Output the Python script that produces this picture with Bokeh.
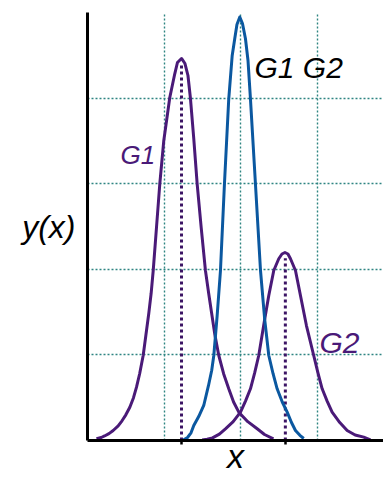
from bokeh.plotting import figure
from bokeh.models import FixedTicker, Label, Range1d
from bokeh.embed import file_html
from bokeh.resources import INLINE

# ---- data ----
g1_x = [0.117, 0.18, 0.222, 0.28, 0.335, 0.40, 0.45, 0.50, 0.552, 0.60, 0.639, 0.68,
        0.726, 0.76, 0.799, 0.83, 0.857, 0.900, 0.943, 0.995, 1.073, 1.138, 1.173,
        1.226, 1.271, 1.310, 1.343, 1.386, 1.430, 1.482, 1.538, 1.58, 1.617, 1.66,
        1.712, 1.775, 1.842, 1.905, 1.973, 2.09, 2.213, 2.308, 2.425]
g1_y = [0.02, 0.035, 0.053, 0.08, 0.117, 0.17, 0.23, 0.30, 0.389, 0.50, 0.623, 0.78,
        0.993, 1.22, 1.484, 1.72, 1.986, 2.492, 3.002, 3.505, 4.007, 4.284, 4.416,
        4.463, 4.404, 4.264, 3.992, 3.524, 2.999, 2.492, 1.986, 1.72, 1.499, 1.24,
        0.993, 0.78, 0.604, 0.45, 0.331, 0.22, 0.137, 0.07, 0.02]

g12_x = [1.239, 1.304, 1.35, 1.386, 1.45, 1.516, 1.578, 1.62, 1.647, 1.69, 1.734,
         1.786, 1.842, 1.887, 1.920, 1.949, 1.986, 2.021, 2.060, 2.093, 2.125, 2.190,
         2.256, 2.31, 2.364, 2.42, 2.473, 2.54, 2.604, 2.66, 2.712, 2.77, 2.820]
g12_y = [0.0, 0.035, 0.09, 0.175, 0.28, 0.409, 0.643, 0.82, 0.993, 1.45, 1.986,
         2.999, 3.992, 4.498, 4.693, 4.860, 4.947, 4.871, 4.693, 4.439, 3.992, 2.999,
         1.986, 1.42, 0.993, 0.78, 0.604, 0.45, 0.331, 0.21, 0.117, 0.06, 0.023]

g2_x = [1.495, 1.56, 1.630, 1.72, 1.799, 1.90, 1.995, 2.06, 2.125, 2.18, 2.233, 2.308,
        2.364, 2.429, 2.494, 2.536, 2.575, 2.614, 2.647, 2.712, 2.777, 2.855, 2.950,
        3.005, 3.060, 3.125, 3.190, 3.29, 3.386, 3.49, 3.602, 3.690]
g2_y = [0.006, 0.015, 0.03, 0.075, 0.137, 0.22, 0.331, 0.46, 0.604, 0.79, 0.993, 1.402,
        1.694, 1.986, 2.123, 2.179, 2.196, 2.179, 2.123, 1.986, 1.694, 1.343, 0.993,
        0.79, 0.604, 0.46, 0.331, 0.21, 0.117, 0.065, 0.039, 0.006]

centre_x = [1.226, 2.58]      # centres of G1 and G2
centre_top = [4.38, 2.13]     # top of the dotted centre lines
grid_x = [1, 2, 3]
grid_y = [1, 2, 3, 4, 5]

curve_labels = ["G1", "G1 G2", "G2"]
label_x = [0.430, 2.177, 3.025]
label_y = [3.341, 4.363, 1.145]

PURPLE = "#4a1a78"
DOT_PURPLE = "#3c1464"
BLUE = "#0b58a0"
TEAL = "#2f8582"
FONT = "Liberation Sans"

p = figure(width=383, height=477, x_range=Range1d(0, 3.86), y_range=Range1d(0, 5),
           output_backend="svg", toolbar_location=None,
           min_border_left=87, min_border_right=0, min_border_top=12, min_border_bottom=37)
p.outline_line_color = None
p.background_fill_color = "white"
p.border_fill_color = "white"

# grid
p.xgrid.ticker = FixedTicker(ticks=grid_x)
p.ygrid.ticker = FixedTicker(ticks=grid_y)
for g in (p.xgrid, p.ygrid):
    g.grid_line_color = TEAL
    g.grid_line_dash = "2 2"
    g.grid_line_width = 1.4

# axes
p.xaxis.ticker = FixedTicker(ticks=centre_x)
p.xaxis.major_label_overrides = {c: "" for c in centre_x}
p.yaxis.ticker = FixedTicker(ticks=[])
for ax in (p.xaxis, p.yaxis):
    ax.axis_line_width = 3
    ax.axis_line_color = "black"
    ax.minor_tick_line_color = None
    ax.major_label_standoff = 0
    ax.major_tick_in = 0
    ax.axis_label_text_font = FONT
    ax.axis_label_text_font_style = "italic"
    ax.axis_label_text_color = "black"
p.xaxis.major_tick_out = 4
p.xaxis.major_tick_line_width = 2.5
p.xaxis.major_tick_line_color = "black"
p.yaxis.major_tick_out = 0
p.yaxis.major_tick_line_color = None

p.xaxis.axis_label = "x"
p.xaxis.axis_label_text_font_size = "34px"
p.xaxis.axis_label_standoff = -8
p.yaxis.axis_label = "y(x)"
p.yaxis.axis_label_text_font_size = "32px"
p.yaxis.axis_label_orientation = "horizontal"
p.yaxis.axis_label_standoff = 12

# dotted centre lines
p.segment(x0=centre_x, y0=[0, 0], x1=centre_x, y1=centre_top,
          line_color=DOT_PURPLE, line_width=3, line_dash="3 3")

# curves
p.line(g1_x, g1_y, line_color=PURPLE, line_width=3, line_join="round")
p.line(g2_x, g2_y, line_color=PURPLE, line_width=3, line_join="round")
p.line(g12_x, g12_y, line_color=BLUE, line_width=3, line_join="round")

label_size = ["26px", "30px", "30px"]
label_color = [PURPLE, "black", PURPLE]
for t, x, y, s, c in zip(curve_labels, label_x, label_y, label_size, label_color):
    p.add_layout(Label(x=x, y=y, text=t, text_font=FONT, text_font_size=s,
                       text_color=c, text_font_style="italic",
                       text_baseline="alphabetic", text_align="left"))

open("out.html", "w").write(file_html(p, INLINE))
